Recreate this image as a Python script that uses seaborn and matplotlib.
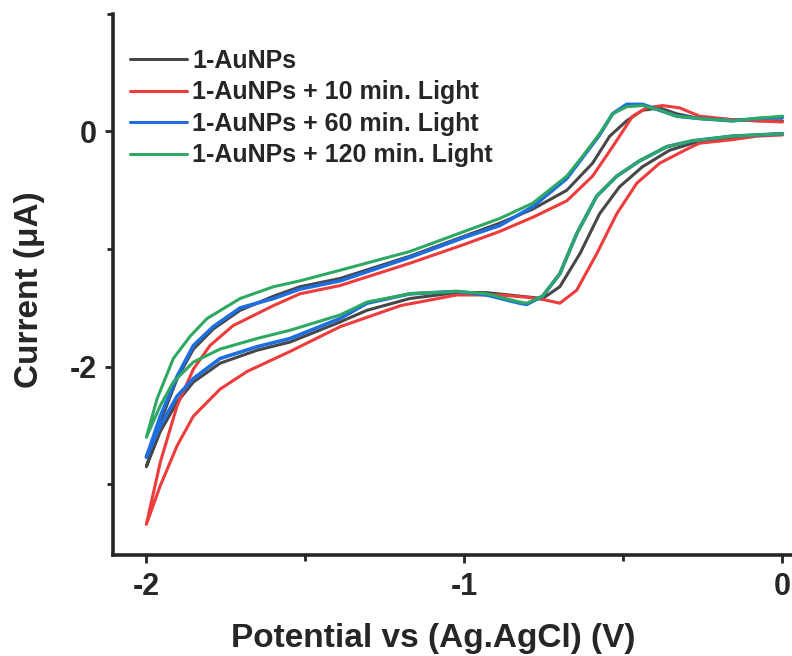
import pandas as pd
import matplotlib.pyplot as plt
import seaborn as sns
from matplotlib.ticker import MultipleLocator

# --- data (E in V, I in uA) ---
# each curve: cathodic sweep 0 -> -2 V, then return sweep -2 -> 0 V
black_E = [0, -0.08, -0.157, -0.27, -0.355, -0.44, -0.512, -0.575, -0.637, -0.70, -0.754, -0.826, -0.93,
           -1.024, -1.171, -1.306, -1.391, -1.548, -1.652, -1.768, -1.852, -1.903, -1.956, -2.0,
           -1.956, -1.903, -1.852, -1.79, -1.705, -1.60, -1.517, -1.391, -1.171, -1.0, -0.889, -0.785,
           -0.678, -0.597, -0.543, -0.49, -0.44, -0.386, -0.333, -0.261, -0.157, -0.08, 0]
black_I = [-0.02, -0.03, -0.06, -0.09, -0.16, -0.30, -0.47, -0.70, -1.04, -1.32, -1.42, -1.40, -1.37,
           -1.37, -1.42, -1.52, -1.62, -1.79, -1.86, -1.97, -2.13, -2.30, -2.55, -2.85,
           -2.47, -2.10, -1.85, -1.68, -1.52, -1.40, -1.32, -1.25, -1.06, -0.89, -0.78, -0.66,
           -0.50, -0.27, -0.04, 0.09, 0.18, 0.20, 0.15, 0.11, 0.10, 0.09, 0.09]

red_E = [0, -0.08, -0.157, -0.261, -0.30, -0.386, -0.458, -0.521, -0.584, -0.647, -0.70, -0.75, -0.80,
         -0.889, -1.024, -1.20, -1.391, -1.548, -1.683, -1.768, -1.852, -1.903, -1.956, -2.0,
         -1.956, -1.903, -1.852, -1.80, -1.727, -1.60, -1.517, -1.391, -1.171, -1.0, -0.889, -0.785,
         -0.678, -0.597, -0.534, -0.471, -0.427, -0.377, -0.323, -0.261, -0.157, -0.08, 0]
red_I = [-0.03, -0.04, -0.07, -0.10, -0.15, -0.27, -0.44, -0.70, -1.04, -1.35, -1.46, -1.43, -1.41,
         -1.39, -1.39, -1.48, -1.66, -1.87, -2.04, -2.19, -2.42, -2.67, -3.01, -3.34,
         -2.81, -2.33, -2.02, -1.82, -1.65, -1.48, -1.38, -1.31, -1.12, -0.96, -0.85, -0.73,
         -0.59, -0.38, -0.13, 0.13, 0.20, 0.22, 0.20, 0.13, 0.10, 0.09, 0.08]

blue_E = [0, -0.08, -0.157, -0.283, -0.364, -0.449, -0.521, -0.584, -0.647, -0.70, -0.754, -0.804, -0.826,
          -0.93, -1.024, -1.171, -1.306, -1.391, -1.548, -1.652, -1.768, -1.852, -1.903, -1.956, -2.0,
          -1.956, -1.903, -1.852, -1.79, -1.705, -1.60, -1.517, -1.391, -1.171, -1.0, -0.889, -0.785,
          -0.678, -0.628, -0.575, -0.534, -0.49, -0.44, -0.386, -0.333, -0.261, -0.157, -0.08, 0]
blue_I = [-0.02, -0.03, -0.04, -0.08, -0.13, -0.25, -0.38, -0.55, -0.87, -1.21, -1.40, -1.47, -1.46,
          -1.39, -1.36, -1.38, -1.46, -1.59, -1.76, -1.83, -1.93, -2.10, -2.25, -2.50, -2.77,
          -2.42, -2.08, -1.82, -1.66, -1.50, -1.42, -1.34, -1.27, -1.07, -0.90, -0.80, -0.64,
          -0.40, -0.22, -0.03, 0.15, 0.23, 0.23, 0.18, 0.13, 0.11, 0.09, 0.11, 0.12]

green_E = [0, -0.08, -0.157, -0.283, -0.364, -0.449, -0.521, -0.584, -0.647, -0.70, -0.754, -0.804, -0.826,
           -0.93, -1.024, -1.171, -1.306, -1.391, -1.548, -1.652, -1.768, -1.852, -1.915, -1.956, -2.0,
           -1.966, -1.915, -1.862, -1.809, -1.705, -1.60, -1.517, -1.391, -1.171, -1.0, -0.889, -0.785,
           -0.678, -0.628, -0.575, -0.534, -0.49, -0.44, -0.386, -0.333, -0.261, -0.157, -0.08, 0]
green_I = [-0.02, -0.03, -0.04, -0.08, -0.13, -0.25, -0.38, -0.55, -0.87, -1.21, -1.40, -1.46, -1.45,
           -1.38, -1.36, -1.38, -1.45, -1.56, -1.69, -1.76, -1.85, -1.96, -2.13, -2.33, -2.60,
           -2.27, -1.93, -1.74, -1.59, -1.42, -1.32, -1.27, -1.18, -1.02, -0.85, -0.74, -0.61,
           -0.38, -0.21, -0.02, 0.15, 0.21, 0.22, 0.18, 0.13, 0.11, 0.09, 0.11, 0.13]

labels = ["1-AuNPs", "1-AuNPs + 10 min. Light", "1-AuNPs + 60 min. Light", "1-AuNPs + 120 min. Light"]
colors = ["#474747", "#ee3b3b", "#1f6ee0", "#2ea862"]

frames = []
for lab, E, I in zip(labels, [black_E, red_E, blue_E, green_E], [black_I, red_I, blue_I, green_I]):
    frames.append(pd.DataFrame({"E": E, "I": I, "sample": lab}))
df = pd.concat(frames, ignore_index=True)

sns.set_style("ticks")
plt.rcParams["font.family"] = ["Liberation Sans", "DejaVu Sans"]
plt.rcParams["font.weight"] = "bold"
plt.rcParams["axes.unicode_minus"] = False

fig = plt.figure(figsize=(7.92, 6.56), dpi=100)
ax = fig.add_axes([0.143, 0.154, 0.857, 0.825])

sns.lineplot(data=df, x="E", y="I", hue="sample", hue_order=labels,
             palette=dict(zip(labels, colors)), sort=False, estimator=None,
             linewidth=2.2, ax=ax)
ax.lines[2].set_linewidth(2.6)

ax.set_xlim(-2.104, 0.03)
ax.set_ylim(-3.6, 1.0)
ax.xaxis.set_major_locator(MultipleLocator(1))
ax.xaxis.set_minor_locator(MultipleLocator(0.5))
ax.yaxis.set_major_locator(MultipleLocator(2))
ax.yaxis.set_minor_locator(MultipleLocator(1))

for s in ["top", "right"]:
    ax.spines[s].set_visible(False)
for s in ["left", "bottom"]:
    ax.spines[s].set_linewidth(2.6)
ax.tick_params(which="major", length=6, width=2, labelsize=22, pad=6)
ax.tick_params(which="minor", length=4, width=2)

ax.set_xlabel("Potential vs (Ag.AgCl) (V)", fontsize=24, fontweight="bold")
ax.set_ylabel("Current (μA)", fontsize=24, fontweight="bold")
ax.xaxis.set_label_coords(0.472, -0.125)
ax.yaxis.set_label_coords(-0.10, 0.49)

sns.move_legend(ax, "upper left", bbox_to_anchor=(0.024, 0.935), frameon=False, title=None,
                fontsize=18, labelspacing=0.3, handlelength=2.3, handletextpad=0.2,
                borderpad=0, borderaxespad=0)
for h in ax.get_legend().legend_handles:
    h.set_linewidth(2.2)

fig.savefig("out.png", dpi=100)
